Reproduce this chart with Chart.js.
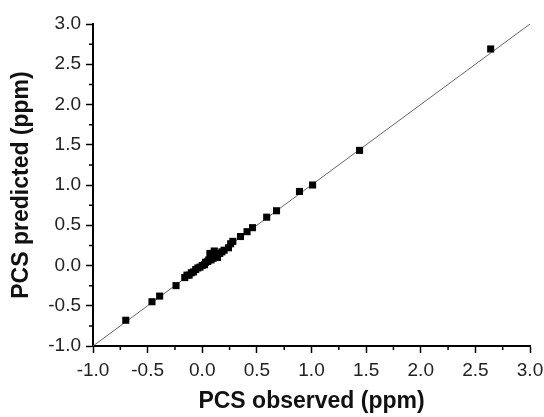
<!DOCTYPE html>
<html>
<head>
<meta charset="utf-8">
<script src="https://cdn.jsdelivr.net/npm/chart.js@4/dist/chart.umd.min.js"></script>
<style>
  html, body { margin: 0; padding: 0; background: #fff; }
  #wrap { width: 544px; height: 417px; }
</style>
</head>
<body>
<div id="wrap"><canvas id="chart"></canvas></div>
<script>
// PCS values (ppm)
const observed = [-0.70, -0.46, -0.39, -0.24, -0.16, -0.14, -0.12, -0.10, -0.08, -0.06, -0.04, -0.02,
  0.00, 0.02, 0.03, 0.05, 0.06, 0.08, 0.10, 0.07, 0.11, 0.13, 0.14, 0.16, 0.18, 0.20,
  0.24, 0.26, 0.28, 0.35, 0.41, 0.46, 0.59, 0.68, 0.89, 1.01, 1.44, 2.64];
const predicted = [-0.68, -0.45, -0.38, -0.25, -0.15, -0.12, -0.12, -0.09, -0.08, -0.05, -0.03, -0.02,
  0.00, 0.01, 0.04, 0.05, 0.07, 0.07, 0.09, 0.15, 0.18, 0.12, 0.10, 0.15, 0.17, 0.19,
  0.22, 0.27, 0.30, 0.36, 0.42, 0.47, 0.60, 0.68, 0.92, 1.00, 1.43, 2.69];
// y = x reference line
const lineX = [-1.0, 3.0];
const lineY = [-1.0, 3.0];
// major tick labels (both axes)
const tickValues = [-1.0, -0.5, 0.0, 0.5, 1.0, 1.5, 2.0, 2.5, 3.0];

const tickFont = { family: "Arial, 'Liberation Sans', sans-serif", size: 19 };
const titleFont = { family: "Arial, 'Liberation Sans', sans-serif", size: 23, weight: "bold" };

// short minor ticks half way between major ticks
const minorTicks = {
  id: "minorTicks",
  afterDraw(chart) {
    const ctx = chart.ctx;
    const { x, y } = chart.scales;
    ctx.save();
    ctx.strokeStyle = "#000";
    ctx.lineWidth = 1.5;
    ctx.beginPath();
    for (let i = 0; i < tickValues.length - 1; i++) {
      const v = (tickValues[i] + tickValues[i + 1]) / 2;
      const px = x.getPixelForValue(v);
      ctx.moveTo(px, x.top);
      ctx.lineTo(px, x.top + 4);
      const py = y.getPixelForValue(v);
      ctx.moveTo(y.right, py);
      ctx.lineTo(y.right - 4, py);
    }
    ctx.stroke();
    ctx.restore();
  },
};

const setTicks = (scale) => {
  scale.ticks = tickValues.map((v) => ({ value: v }));
};

new Chart(document.getElementById("chart"), {
  type: "scatter",
  data: {
    datasets: [
      {
        data: observed.map((v, i) => ({ x: v, y: predicted[i] })),
        pointStyle: "rect",
        pointRadius: 5,
        backgroundColor: "#000",
        borderColor: "#000",
        borderWidth: 0,
      },
      {
        data: lineX.map((v, i) => ({ x: v, y: lineY[i] })),
        showLine: true,
        borderColor: "#666",
        borderWidth: 1,
        pointRadius: 0,
      },
    ],
  },
  options: {
    responsive: true,
    maintainAspectRatio: false,
    animation: false,
    layout: { padding: { top: 24, right: 14, left: 0, bottom: 0 } },
    plugins: { legend: { display: false }, tooltip: { enabled: false } },
    scales: {
      x: {
        type: "linear",
        min: -1,
        max: 3,
        afterBuildTicks: setTicks,
        afterFit: (scale) => {
          scale.height = 71;
          scale.paddingLeft = 0;
          scale.paddingRight = 0;
        },
        grid: { drawOnChartArea: false, drawTicks: true, tickLength: 7, tickColor: "#000", tickWidth: 1.5 },
        border: { color: "#000", width: 2 },
        ticks: { font: tickFont, color: "#222", padding: 6, maxRotation: 0, autoSkip: false,
          callback: (v) => v.toFixed(1) },
        title: { display: true, text: "PCS observed (ppm)", font: titleFont, color: "#111",
          padding: { top: 0, bottom: 2 } },
      },
      y: {
        type: "linear",
        min: -1,
        max: 3,
        afterBuildTicks: setTicks,
        afterFit: (scale) => {
          scale.width = 93;
          scale.paddingTop = 0;
          scale.paddingBottom = 0;
        },
        grid: { drawOnChartArea: false, drawTicks: true, tickLength: 7, tickColor: "#000", tickWidth: 1.5 },
        border: { color: "#000", width: 2 },
        ticks: { font: tickFont, color: "#222", padding: 5, autoSkip: false,
          callback: (v) => v.toFixed(1) },
        title: { display: true, text: "PCS predicted (ppm)", font: titleFont, color: "#111",
          padding: { top: 8, bottom: 0 } },
      },
    },
  },
  plugins: [minorTicks],
});
</script>
</body>
</html>
